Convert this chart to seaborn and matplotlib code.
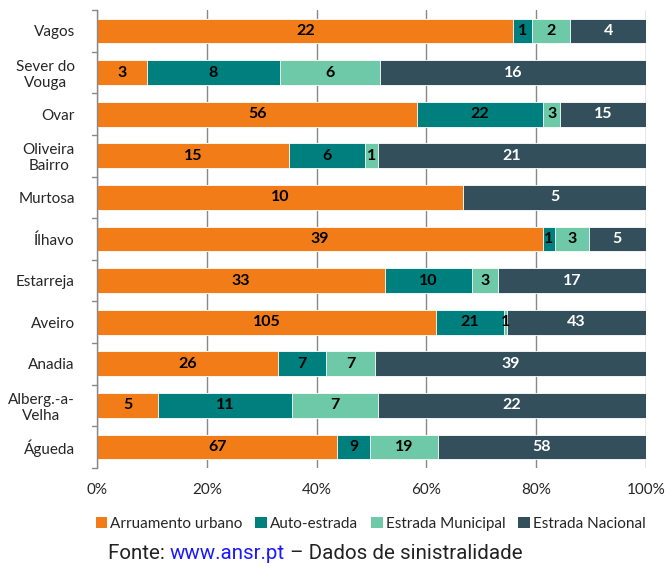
import numpy as np
import pandas as pd
import matplotlib
matplotlib.use("Agg")
import matplotlib.pyplot as plt
from matplotlib import font_manager
from matplotlib.patches import Patch
import seaborn as sns

municipios = ["Vagos", "Sever do\nVouga", "Ovar", "Oliveira\nBairro", "Murtosa", "Ílhavo",
              "Estarreja", "Aveiro", "Anadia", "Alberg.-a-\nVelha", "Águeda"]
series = ["Arruamento urbano", "Auto-estrada", "Estrada Municipal", "Estrada Nacional"]
arruamento = [22, 3, 56, 15, 10, 39, 33, 105, 26, 5, 67]
auto_estrada = [1, 8, 22, 6, 0, 1, 10, 21, 7, 11, 9]
estrada_municipal = [2, 6, 3, 1, 0, 3, 3, 1, 7, 7, 19]
estrada_nacional = [4, 16, 15, 21, 5, 5, 17, 43, 39, 22, 58]
xticks = [0, 20, 40, 60, 80, 100]
xtick_labels = ["0%", "20%", "40%", "60%", "80%", "100%"]

colors = ["#F27C17", "#007F7F", "#6DC9A7", "#324F5B"]
text_colors = ["black", "black", "black", "white"]

sns.set_theme(style="white")
available = {f.name for f in font_manager.fontManager.ttflist}
base_font = "Lato" if "Lato" in available else "DejaVu Sans"
narrow_font = "Liberation Sans Narrow" if "Liberation Sans Narrow" in available else "Roboto"
plt.rcParams["font.family"] = [base_font, "DejaVu Sans"]

values = np.array([arruamento, auto_estrada, estrada_municipal, estrada_nacional], dtype=float)
totals = values.sum(axis=0)
pct = values / totals * 100
cum = np.cumsum(pct, axis=0)

fig = plt.figure(figsize=(6.7, 5.66), dpi=100)
ax = fig.add_axes([0.1448, 0.1735, 0.8194, 0.8085])

# stacked bars: draw cumulative totals back-to-front
for i in reversed(range(len(series))):
    df = pd.DataFrame({"municipio": municipios, "pct": cum[i]})
    sns.barplot(data=df, x="pct", y="municipio", orient="h", color=colors[i],
                width=0.6, edgecolor="white", linewidth=0.6, saturation=1, ax=ax, zorder=2)

# segment value labels
for i in range(len(series)):
    for j in range(len(municipios)):
        v = values[i, j]
        if v <= 0:
            continue
        center = cum[i, j] - pct[i, j] / 2
        ax.text(center, j, f"{int(v)}", ha="center", va="center", fontsize=11.5,
                fontweight="bold", color=text_colors[i], zorder=5)

ax.set_xlim(0, 100)
ax.set_ylim(len(municipios) - 0.5, -0.5)
ax.set_xticks(xticks)
ax.set_xticklabels(xtick_labels, fontsize=11)
ax.set_xlabel("")
ax.set_ylabel("")
ax.set_yticks(range(len(municipios)))
ax.set_yticklabels(municipios, fontsize=11, ha="right", multialignment="center",
                   linespacing=1.15)
ax.tick_params(axis="y", length=0, pad=16)
ax.tick_params(axis="x", length=0, pad=11)

# boundary ticks on the category axis
for b in np.arange(-0.5, len(municipios), 1.0):
    ax.plot([-0.9, 0], [b, b], color="#888888", lw=1, clip_on=False, zorder=3)

ax.xaxis.grid(True, color="#888888", lw=1)
ax.set_axisbelow(True)
for side in ["top", "right", "bottom"]:
    ax.spines[side].set_visible(False)
ax.spines["left"].set_color("#888888")
ax.spines["left"].set_linewidth(1)

handles = [Patch(facecolor=c, edgecolor="none") for c in colors]
fig.legend(handles, series, loc="center", bbox_to_anchor=(0.553, 0.075), ncol=4,
           frameon=False, fontsize=11, handlelength=0.75, handleheight=0.75,
           handletextpad=0.2, columnspacing=0.85)

# source line
fy = 0.022
fsize = 14.8
t1 = fig.text(0.161, fy, "Fonte: ", fontsize=fsize, family=[narrow_font, "DejaVu Sans"],
              color="#222222", ha="left", va="center")
fig.canvas.draw()
r = fig.canvas.get_renderer()
bb = t1.get_window_extent(r)
x2 = bb.x1 / fig.bbox.width
t2 = fig.text(x2, fy, "www.ansr.pt", fontsize=fsize, family=[narrow_font, "DejaVu Sans"],
              color="#1A1AFF", ha="left", va="center")
bb2 = t2.get_window_extent(r)
x3 = bb2.x1 / fig.bbox.width
fig.text(x3, fy, " – Dados de sinistralidade", fontsize=fsize,
         family=[narrow_font, "DejaVu Sans"], color="#222222", ha="left", va="center")

fig.savefig("out.png", dpi=100)
